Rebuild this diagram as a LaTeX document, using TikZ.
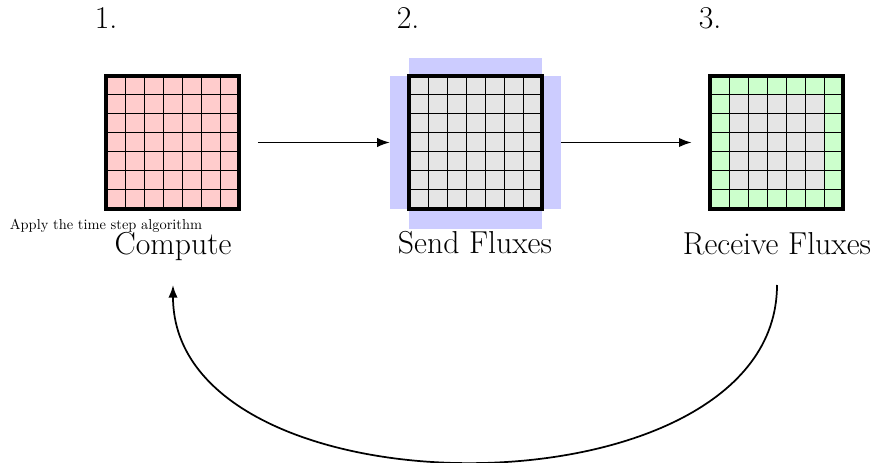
\documentclass[tikz,border=0pt]{standalone}
\usetikzlibrary{arrows.meta}
\definecolor{pinkc}{RGB}{255,204,204}
\definecolor{grayc}{RGB}{229,229,229}
\definecolor{greenc}{RGB}{204,255,204}
\definecolor{bluec}{RGB}{204,204,255}
\newcommand\mygridlines[2]{%
  \foreach \i in {1,...,6} {
    \draw[gridline] (#1+\i*19,#2) -- ++(0,133);
    \draw[gridline] (#1,#2+\i*19) -- ++(133,0);
  }
  \draw[border] (#1,#2) rectangle ++(133,133);
}
\begin{document}
\begin{tikzpicture}[x=0.75pt,y=-0.75pt,
  gridline/.style={line width=0.75pt, black},
  border/.style={line width=2.4pt, black},
  arr/.style={-{Latex[length=9.5pt,width=7pt]}, line width=1.3pt},
  bigtxt/.style={font=\fontsize{23.8}{28}\selectfont, inner sep=0pt, anchor=base},
  smalltxt/.style={font=\fontsize{10.8}{12}\selectfont, inner sep=0pt, anchor=base},
  gbox/.style={minimum width=99.75pt, minimum height=99.75pt, inner sep=0pt, draw=none}]
\useasboundingbox (0,0) rectangle (874,463);

% labels
\node[bigtxt] (n1) at (106,29) {1.};
\node[bigtxt] (n2) at (408,29) {2.};
\node[bigtxt] (n3) at (710,29) {3.};

% grid 1
\fill[pinkc] (106,76) rectangle ++(133,133);
\mygridlines{106}{76}
\node[gbox] (g1) at (172.5,142.5) {};

% grid 2
\fill[bluec] (409,58) rectangle (542,76);
\fill[bluec] (409,209) rectangle (542,229);
\fill[bluec] (390,76) rectangle (409,209);
\fill[bluec] (542,76) rectangle (561,209);
\fill[grayc] (409,76) rectangle ++(133,133);
\mygridlines{409}{76}
\node[gbox, minimum width=128pt] (g2) at (475.5,142.5) {};

% grid 3
\fill[greenc] (710,76) rectangle ++(133,133);
\fill[grayc] (729,95) rectangle (824,190);
\mygridlines{710}{76}
\node[gbox] (g3) at (776.5,142.5) {};

% texts
\node[bigtxt] (t1) at (173,254) {Compute};
\node[bigtxt] (t2) at (475,253) {Send Fluxes};
\node[bigtxt] (t3) at (777,254) {Receive Fluxes};
\node[smalltxt] (s1) at (106,230) {Apply the time step algorithm};

% arrows
\draw[arr] ([xshift=14pt]g1.east) -- (g2.west);
\draw[arr] (g2.east) -- ([xshift=-13.5pt]g3.west);

\coordinate (c3) at (777,285);
\coordinate (c1) at (173,285);
\draw[arr] (c3) to[out=-90,in=-90] (c1);
\end{tikzpicture}
\end{document}
